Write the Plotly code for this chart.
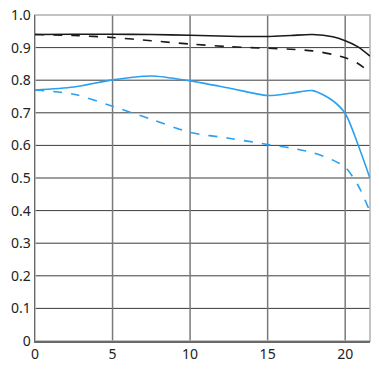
import plotly.graph_objects as go

x_pts = [0, 2.5, 5, 7.5, 10, 12.5, 15, 16.5, 17.9, 19.2, 20, 20.8, 21.6]
black_solid = [0.940, 0.941, 0.941, 0.940, 0.938, 0.935, 0.934, 0.937, 0.940, 0.933, 0.921, 0.903, 0.874]
black_dash = [0.940, 0.937, 0.931, 0.921, 0.911, 0.903, 0.898, 0.895, 0.890, 0.879, 0.869, 0.852, 0.824]
blue_solid = [0.770, 0.779, 0.801, 0.813, 0.798, 0.776, 0.753, 0.760, 0.768, 0.737, 0.698, 0.606, 0.499]
blue_dash = [0.770, 0.757, 0.720, 0.680, 0.640, 0.622, 0.603, 0.592, 0.578, 0.555, 0.533, 0.480, 0.397]

x_ticks = [0, 5, 10, 15, 20]
y_ticks = [0, 0.1, 0.2, 0.3, 0.4, 0.5, 0.6, 0.7, 0.8, 0.9, 1.0]
y_labels = ["0", "0.1", "0.2", "0.3", "0.4", "0.5", "0.6", "0.7", "0.8", "0.9", "1.0"]

BLUE = "#2aa0f0"
BLACK = "#1a1a1a"

fig = go.Figure()
series = [
    (blue_dash, BLUE, "dash"),
    (blue_solid, BLUE, "solid"),
    (black_dash, BLACK, "dash"),
    (black_solid, BLACK, "solid"),
]
for ys, col, dash in series:
    fig.add_trace(go.Scatter(
        x=x_pts, y=ys, mode="lines",
        line=dict(color=col, width=1.6, dash=dash, shape="spline", smoothing=0.8),
        showlegend=False, hoverinfo="skip"))

for yv in y_ticks[1:-1]:
    fig.add_shape(type="line", xref="paper", x0=0, x1=1, yref="y", y0=yv, y1=yv,
                  line=dict(color="#3c3c3c", width=1), layer="below")
for xv in x_ticks[1:]:
    fig.add_shape(type="line", yref="paper", y0=0, y1=1, xref="x", x0=xv, x1=xv,
                  line=dict(color="#7a7a7a", width=1.5), layer="below")
fig.add_shape(type="rect", xref="paper", yref="paper", x0=0, x1=1, y0=0, y1=1,
              line=dict(color="#b0b0b0", width=1.5), layer="below")

fig.update_layout(
    width=379, height=369,
    margin=dict(l=35, r=9, t=15, b=28),
    paper_bgcolor="white", plot_bgcolor="white",
    font=dict(family="Noto Sans", size=14, color="#222222"),
    xaxis=dict(range=[0, 21.6], tickvals=x_ticks, ticktext=[str(v) for v in x_ticks],
               showgrid=False, zeroline=False, showline=True, linecolor="#6a6a6a",
               linewidth=1.5, ticks="", ticklen=0, automargin=False,
               ticklabeloverflow="allow"),
    yaxis=dict(range=[0, 1.0], tickvals=y_ticks, ticktext=y_labels,
               showgrid=False, zeroline=False, showline=True, linecolor="#6a6a6a",
               linewidth=1.5, ticks="", ticklen=0, automargin=False,
               ticklabeloverflow="allow"),
)

fig.write_html(
    "out.html",
    config={"displayModeBar": False, "staticPlot": True},
    post_script="document.body.style.margin='0';document.body.style.padding='0';"
                "document.body.style.overflow='hidden';",
)
